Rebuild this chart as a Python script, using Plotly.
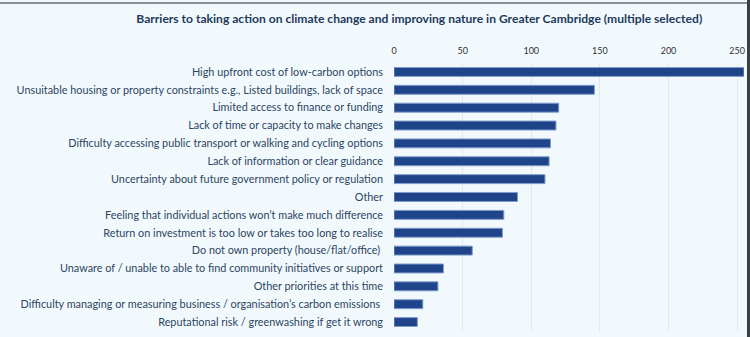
import plotly.graph_objects as go

categories = [
    "High upfront cost of low-carbon options",
    "Unsuitable housing or property constraints e.g., Listed buildings, lack of space",
    "Limited access to finance or funding",
    "Lack of time or capacity to make changes",
    "Difficulty accessing public transport or walking and cycling options",
    "Lack of information or clear guidance",
    "Uncertainty about future government policy or regulation",
    "Other",
    "Feeling that individual actions won\u2019t make much difference",
    "Return on investment is too low or takes too long to realise",
    "Do not own property (house/flat/office) ",
    "Unaware of / unable to able to find community initiatives or support",
    "Other priorities at this time",
    "Difficulty managing or measuring business / organisation\u2019s carbon emissions ",
    "Reputational risk / greenwashing if get it wrong",
]
values = [255, 146, 120, 118, 114, 113, 110, 90, 80, 79, 57, 36, 32, 21, 17]
tick_vals = [0, 50, 100, 150, 200, 250]

title_text = "Barriers to taking action on climate change and improving nature in Greater Cambridge (multiple selected)"

fig = go.Figure(
    go.Bar(
        x=values,
        y=categories,
        orientation="h",
        marker=dict(color="#1f4489", line=dict(color="#7f9cc8", width=1)),
        width=0.5,
    )
)

plot_w = 750 - 394 - 6
plot_h = 337 - 63 - 6

fig.update_layout(
    width=750,
    height=337,
    margin=dict(l=394, r=6, t=63, b=6),
    paper_bgcolor="#f2f9fd",
    plot_bgcolor="#f2f9fd",
    showlegend=False,
    title=dict(
        text="<b>" + title_text + "</b>",
        x=0.559,
        xanchor="center",
        y=0.945,
        yanchor="middle",
        font=dict(family="Lato", size=12.1, color="#1e3a5c"),
    ),
    xaxis=dict(
        side="top",
        range=[0, 255],
        tickvals=tick_vals,
        showgrid=True,
        gridcolor="#e3e8ec",
        gridwidth=1,
        zeroline=False,
        showline=False,
        ticks="",
        ticklabelstandoff=6,
        tickfont=dict(family="Lato", size=9, color="#333333"),
    ),
    yaxis=dict(
        autorange="reversed",
        showgrid=False,
        zeroline=False,
        showline=False,
        ticks="",
        ticklabelstandoff=10,
        tickfont=dict(family="Lato", size=10.85, color="#2c4563"),
    ),
    shapes=[
        # screenshot frame: top grey line and right dark edge
        dict(type="rect", xref="paper", yref="paper",
             x0=(0 - 394) / plot_w, x1=(750 - 394) / plot_w,
             y0=(337 - 6 - 4) / plot_h, y1=(337 - 6 - 2) / plot_h,
             fillcolor="#8a9096", line=dict(width=0), layer="above"),
        dict(type="rect", xref="paper", yref="paper",
             x0=(747 - 394) / plot_w, x1=(750 - 394) / plot_w,
             y0=(0 - 6) / plot_h, y1=(337 - 6) / plot_h,
             fillcolor="#3a3f44", line=dict(width=0), layer="above"),
    ],
)

fig.write_html("out.html")
